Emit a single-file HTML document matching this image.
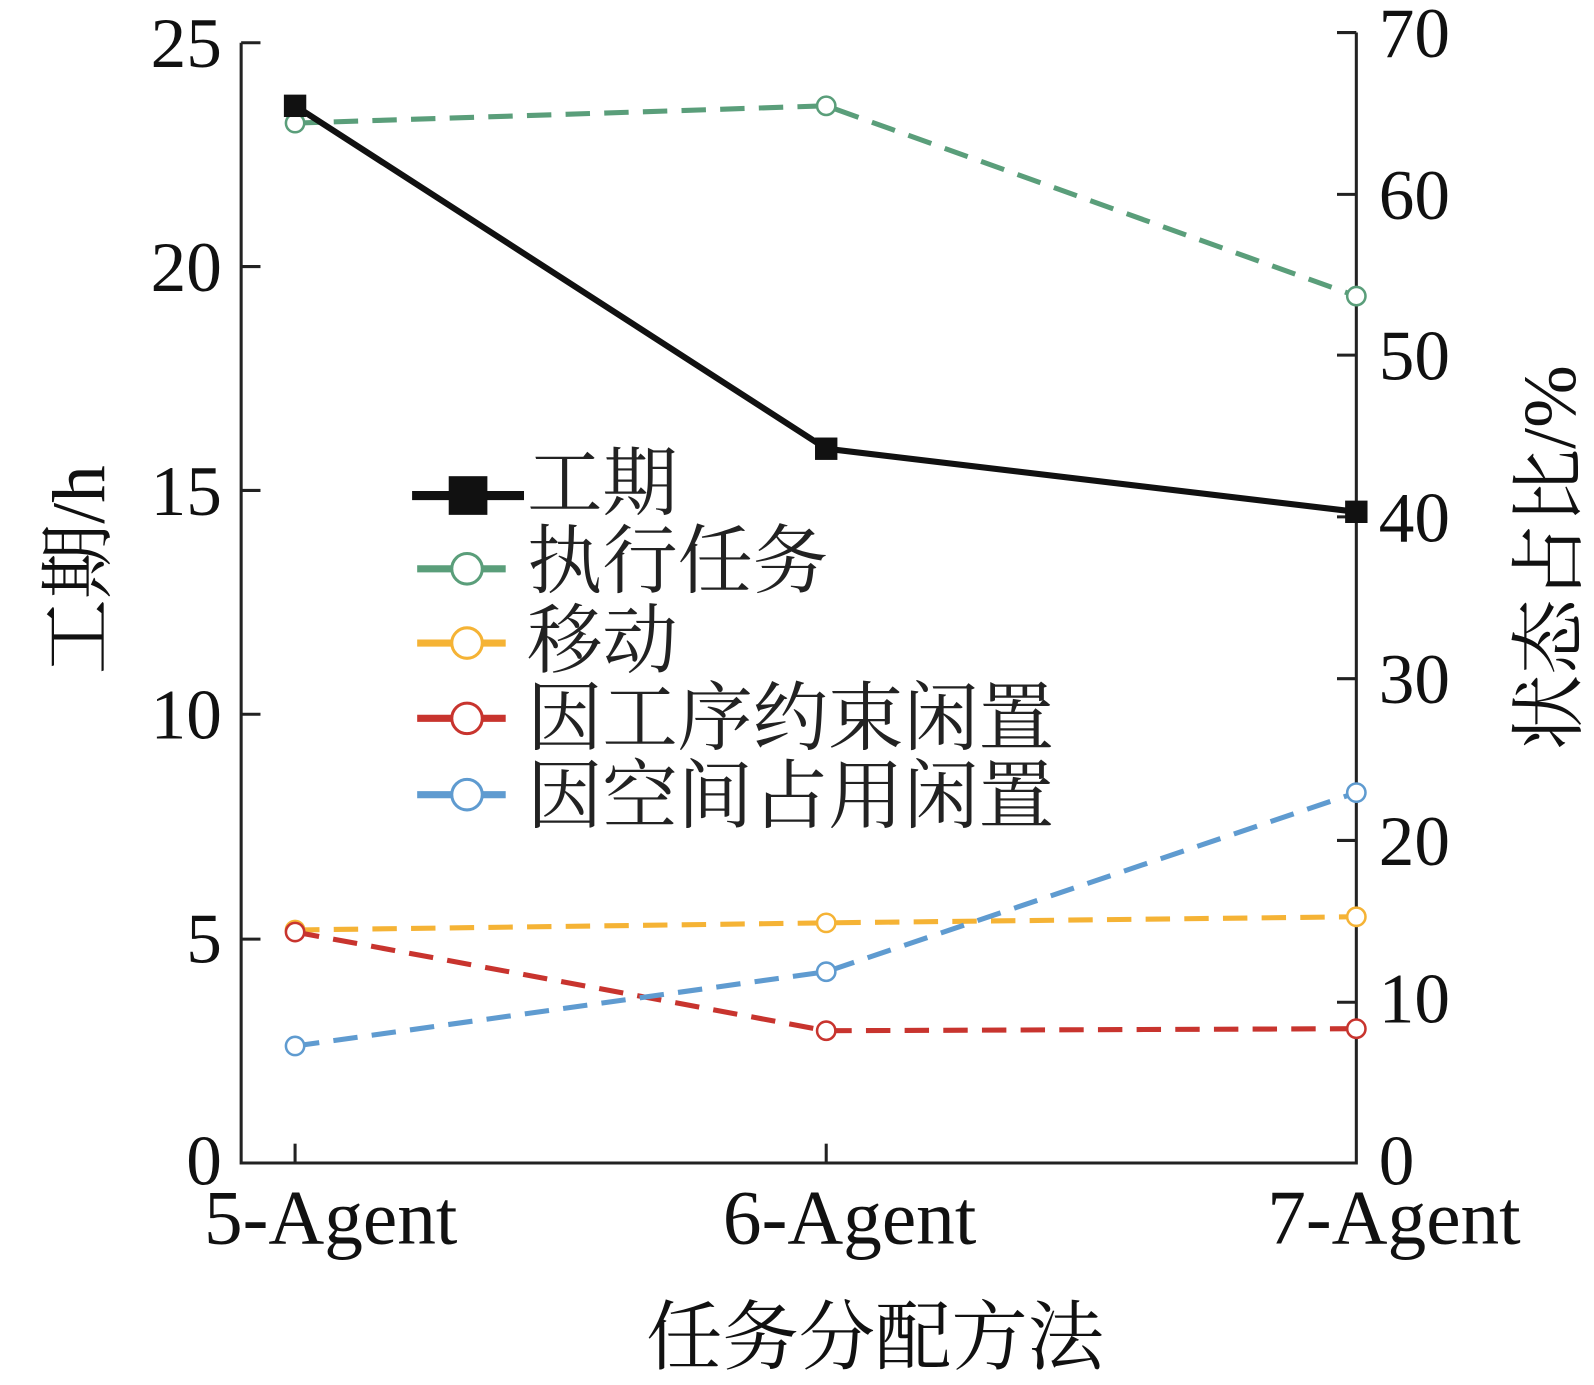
<!DOCTYPE html>
<html><head><meta charset="utf-8"><style>body{margin:0;background:#fff}</style></head><body>
<svg width="1594" height="1380" viewBox="0 0 1594 1380" xmlns="http://www.w3.org/2000/svg" font-family="Liberation Serif, Noto Serif CJK SC, serif">
<rect width="1594" height="1380" fill="#fff"/>
<g transform="scale(1.0175)">
<g stroke="#222" stroke-width="3" fill="none">
<polyline points="237,42 237,1143 1333,1143 1333,32"/>
<line x1="237" y1="42" x2="256" y2="42"/><line x1="237" y1="262" x2="256" y2="262"/><line x1="237" y1="482" x2="256" y2="482"/><line x1="237" y1="702" x2="256" y2="702"/><line x1="237" y1="923" x2="256" y2="923"/>
<line x1="1314" y1="32" x2="1333" y2="32"/><line x1="1314" y1="191" x2="1333" y2="191"/><line x1="1314" y1="349" x2="1333" y2="349"/><line x1="1314" y1="508" x2="1333" y2="508"/><line x1="1314" y1="667" x2="1333" y2="667"/><line x1="1314" y1="826" x2="1333" y2="826"/><line x1="1314" y1="985" x2="1333" y2="985"/>
<line x1="290" y1="1143" x2="290" y2="1124"/><line x1="812" y1="1143" x2="812" y2="1124"/>
</g>
<g font-size="70" fill="#111" text-anchor="end">
<text x="218" y="66">25</text><text x="218" y="286">20</text><text x="218" y="506">15</text><text x="218" y="726">10</text><text x="218" y="946">5</text><text x="218" y="1164">0</text>
</g>
<g font-size="70" fill="#111">
<text x="1355" y="56">70</text><text x="1355" y="215">60</text><text x="1355" y="373">50</text><text x="1355" y="532">40</text><text x="1355" y="691">30</text><text x="1355" y="850">20</text><text x="1355" y="1005">10</text><text x="1355" y="1164">0</text>
</g>
<g font-size="76" fill="#111" text-anchor="middle">
<text x="325" y="1222">5-Agent</text><text x="835" y="1222">6-Agent</text><text x="1370" y="1222">7-Agent</text>
<text x="860" y="1340" font-size="75">任务分配方法</text>
<text transform="translate(102,560) rotate(-90)" font-size="74">工期/h</text>
<text transform="translate(1548,548) rotate(-90)" font-size="74">状态占比/%</text>
</g>
<g fill="none" stroke-width="5" stroke-dasharray="24,14">
<polyline stroke="#5a9e7a" points="290,121 812,104 1333,291"/>
<polyline stroke="#f5b335" points="290,914 812,907 1333,901"/>
<polyline stroke="#c8342e" points="290,916 812,1013 1333,1011"/>
<polyline stroke="#5f9bd0" points="290,1028 812,955 1333,779"/>
</g>
<g fill="#fff" stroke-width="2.5">
<circle cx="290" cy="121" r="9" stroke="#5a9e7a"/><circle cx="812" cy="104" r="9" stroke="#5a9e7a"/><circle cx="1333" cy="291" r="9" stroke="#5a9e7a"/>
<circle cx="290" cy="914" r="9" stroke="#f5b335"/><circle cx="812" cy="907" r="9" stroke="#f5b335"/><circle cx="1333" cy="901" r="9" stroke="#f5b335"/>
<circle cx="290" cy="916" r="9" stroke="#c8342e"/><circle cx="812" cy="1013" r="9" stroke="#c8342e"/><circle cx="1333" cy="1011" r="9" stroke="#c8342e"/>
<circle cx="290" cy="1028" r="9" stroke="#5f9bd0"/><circle cx="812" cy="955" r="9" stroke="#5f9bd0"/><circle cx="1333" cy="779" r="9" stroke="#5f9bd0"/>
</g>
<polyline fill="none" stroke="#111" stroke-width="6" points="290,104 812,441 1333,503"/>
<g fill="#111"><rect x="279" y="93" width="22" height="22"/><rect x="801" y="430" width="22" height="22"/><rect x="1322" y="492" width="22" height="22"/></g>
<line x1="405" y1="487" x2="515" y2="487" stroke="#111" stroke-width="9"/><rect x="441" y="468" width="38" height="38" fill="#111"/>
<g stroke-width="7" fill="#fff">
<line x1="410" y1="559" x2="497" y2="559" stroke="#5a9e7a"/><circle cx="459" cy="559" r="15" stroke="#5a9e7a" stroke-width="3"/>
<line x1="410" y1="632" x2="497" y2="632" stroke="#f5b335"/><circle cx="459" cy="632" r="15" stroke="#f5b335" stroke-width="3"/>
<line x1="410" y1="706" x2="497" y2="706" stroke="#c8342e"/><circle cx="459" cy="706" r="15" stroke="#c8342e" stroke-width="3"/>
<line x1="410" y1="781" x2="497" y2="781" stroke="#5f9bd0"/><circle cx="459" cy="781" r="15" stroke="#5f9bd0" stroke-width="3"/>
</g>
<g font-size="74" fill="#222">
<text x="518" y="500">工期</text><text x="518" y="577">执行任务</text><text x="518" y="655">移动</text><text x="518" y="731">因工序约束闲置</text><text x="518" y="808">因空间占用闲置</text>
</g>
</g>
</svg>
</body></html>
